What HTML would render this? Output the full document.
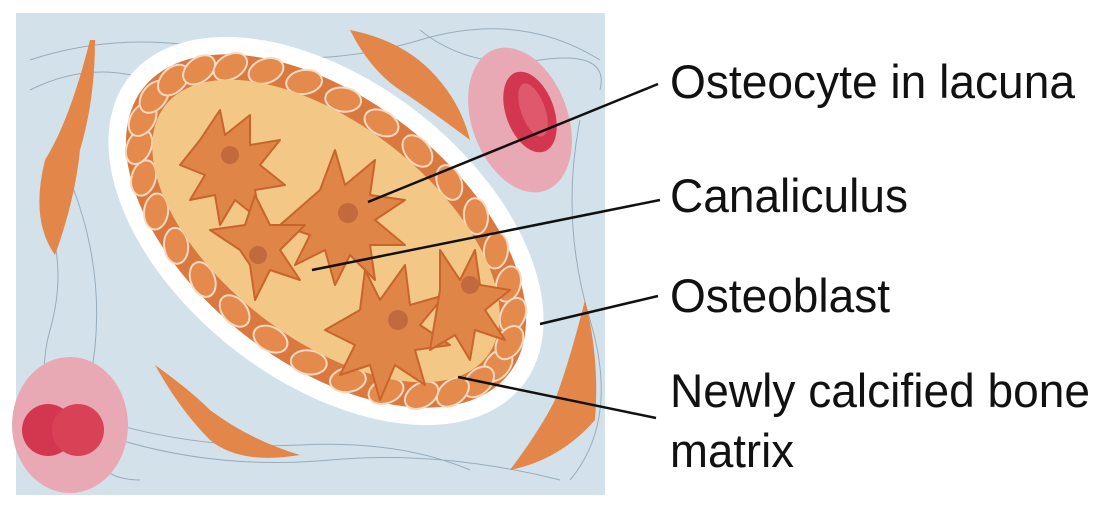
<!DOCTYPE html>
<html><head><meta charset="utf-8"><style>
html,body{margin:0;padding:0;background:#fff;width:1112px;height:527px;overflow:hidden}
svg{display:block}
text{font-family:"Liberation Sans",sans-serif;fill:#111}
</style></head><body>
<svg width="1112" height="527" viewBox="0 0 1112 527">
<rect x="16" y="13" width="589" height="482" fill="#d3e2ea"/>
<g fill="none" stroke="#7d96a8" stroke-width="1" opacity="0.7">
<path d="M30 60 Q120 30 220 50 T420 40 T600 60"/>
<path d="M30 90 Q90 60 150 80 T260 60"/>
<path d="M40 200 Q70 260 50 330 T80 470"/>
<path d="M70 180 Q110 280 90 380 T140 480"/>
<path d="M580 120 Q560 220 590 320 T570 480"/>
<path d="M120 440 Q220 470 330 460 T560 480"/>
<path d="M100 420 Q200 450 300 445 T470 470"/>
<path d="M420 30 Q470 70 540 60 T600 90"/>
</g>
<g>
<ellipse cx="520" cy="120" rx="48" ry="75" transform="rotate(-20 520 120)" fill="#e9a9b4"/>
<ellipse cx="530" cy="112" rx="24" ry="42" transform="rotate(-20 530 112)" fill="#d2374f"/>
<ellipse cx="533" cy="110" rx="12" ry="28" transform="rotate(-20 533 110)" fill="#e0586c"/>
</g>
<g>
<ellipse cx="70" cy="425" rx="58" ry="68" fill="#e9a9b4"/>
<circle cx="48" cy="430" r="26" fill="#d2374f"/>
<circle cx="78" cy="430" r="26" fill="#d94157"/>
</g>
<g fill="#e3864a">
<path d="M90 40 Q70 120 45 160 Q30 220 55 255 Q75 200 80 150 Q95 100 95 40Z"/>
<path d="M350 30 Q400 40 430 70 Q460 100 470 140 Q430 110 400 90 Q370 70 350 30Z"/>
<path d="M155 365 Q190 390 210 410 Q250 440 300 455 Q240 465 210 440 Q180 410 155 365Z"/>
<path d="M585 300 Q600 360 595 420 Q560 460 510 470 Q540 430 555 400 Q570 360 585 300Z"/>
</g>
<ellipse cx="326" cy="231" rx="250" ry="150" transform="rotate(38 326 231)" fill="#ffffff"/>
<ellipse cx="326" cy="231" rx="232" ry="132" transform="rotate(38 326 231)" fill="#d9783f"/>
<g fill="#e38a4c" stroke="#f7d9c0" stroke-width="2" id="obl"></g>
<ellipse cx="326" cy="231" rx="204" ry="107" transform="rotate(38 326 231)" fill="#f3c886"/>
<g fill="#e08548" stroke="#c9642c" stroke-width="2" stroke-linejoin="round">
<path d="M200 140 l20 -30 l5 25 l25 -20 l0 30 l30 -5 l-20 25 l25 20 l-30 5 l5 30 l-25 -20 l-15 25 l-5 -30 l-25 5 l15 -25 l-25 -10z"/>
<path d="M320 190 l15 -40 l10 35 l30 -25 l-5 35 l35 5 l-30 20 l30 25 l-35 0 l5 35 l-25 -25 l-15 30 l-10 -35 l-30 15 l15 -30 l-30 -10z"/>
<path d="M240 250 l-30 -20 l35 -5 l10 -30 l15 30 l35 0 l-25 25 l20 30 l-30 -10 l-15 30 l-5 -35 z"/>
<path d="M360 310 l5 -40 l15 30 l25 -35 l5 40 l35 -10 l-25 30 l30 20 l-35 5 l10 35 l-30 -20 l-15 35 l-10 -35 l-30 10 l15 -30 l-30 -15z"/>
<path d="M440 290 l0 -40 l20 30 l15 -30 l5 35 l30 5 l-25 20 l20 30 l-30 -10 l-5 30 l-15 -25 l-25 15 l5 -30z"/>
</g>
<g fill="#c26a3e">
<circle cx="230" cy="155" r="9"/><circle cx="348" cy="213" r="10"/><circle cx="258" cy="255" r="9"/><circle cx="398" cy="320" r="10"/><circle cx="470" cy="285" r="9"/>
</g>
<g stroke="#111" stroke-width="2.5">
<line x1="368" y1="202" x2="658" y2="84"/>
<line x1="312" y1="270" x2="660" y2="200"/>
<line x1="540" y1="324" x2="658" y2="296"/>
<line x1="458" y1="377" x2="656" y2="418"/>
</g>
<text x="670" y="98" font-size="47" textLength="405" lengthAdjust="spacingAndGlyphs">Osteocyte in lacuna</text>
<text x="670" y="212" font-size="47" textLength="238" lengthAdjust="spacingAndGlyphs">Canaliculus</text>
<text x="670" y="312" font-size="47" textLength="220" lengthAdjust="spacingAndGlyphs">Osteoblast</text>
<text x="670" y="407" font-size="47" textLength="420" lengthAdjust="spacingAndGlyphs">Newly calcified bone</text>
<text x="670" y="467" font-size="47" textLength="124" lengthAdjust="spacingAndGlyphs">matrix</text>
</svg>
<script>
var g=document.getElementById('obl');
var n=30;
for(var i=0;i<n;i++){
  var t=i/n*2*Math.PI, a=38*Math.PI/180;
  var ex=218*Math.cos(t), ey=120*Math.sin(t);
  var x=326+ex*Math.cos(a)-ey*Math.sin(a), y=231+ex*Math.sin(a)+ey*Math.cos(a);
  var e=document.createElementNS('http://www.w3.org/2000/svg','ellipse');
  e.setAttribute('cx',x.toFixed(1));e.setAttribute('cy',y.toFixed(1));
  e.setAttribute('rx','18');e.setAttribute('ry','12');
  var ang=Math.atan2(ey*Math.cos(a)+ex*Math.sin(a), ex*Math.cos(a)-ey*Math.sin(a))*180/Math.PI+90;
  e.setAttribute('transform','rotate('+ang.toFixed(1)+' '+x.toFixed(1)+' '+y.toFixed(1)+')');
  
  
  g.appendChild(e);
}
</script>
</body></html>
